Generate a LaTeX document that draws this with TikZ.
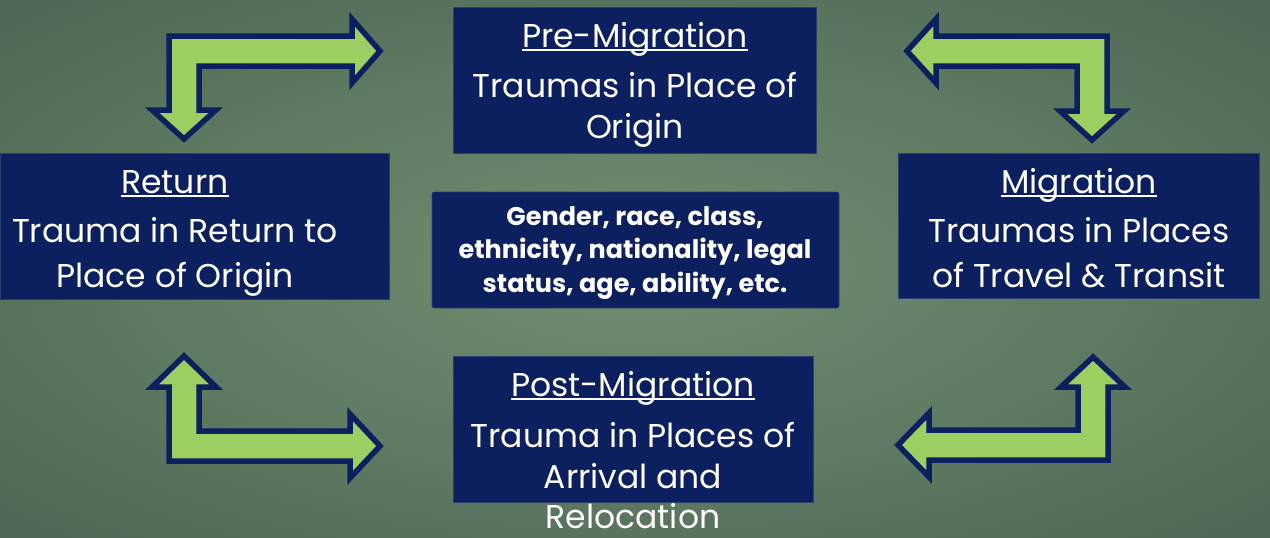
\documentclass[tikz,border=0pt]{standalone}
\usepackage{fontspec}
\setmainfont{Poppins}

\definecolor{navy}{RGB}{12,31,94}
\definecolor{navyedge}{RGB}{44,62,112}
\definecolor{leaf}{RGB}{157,206,98}
\definecolor{bglight}{RGB}{116,142,114}
\definecolor{bgmid}{RGB}{92,118,96}
\definecolor{bgdark}{RGB}{66,87,72}
\definecolor{bgdarker}{RGB}{50,68,58}

\pgfdeclareradialshading{bgshade}{\pgfpoint{0bp}{0bp}}{color(0bp)=(bglight); color(22bp)=(bgmid); color(48bp)=(bgdark); color(72bp)=(bgdarker)}

\newcommand\ulined[1]{\setbox0\hbox{#1}\rlap{\rule[-3.5pt]{\wd0}{1.5pt}}\box0}

\begin{document}
\begin{tikzpicture}[x=1pt,y=-1pt]
\tikzset{
  stage/.style={fill=navy, draw=navyedge, line width=0.6pt, inner sep=0pt},
  words/.style={text=white, inner sep=0pt, anchor=base, font=\fontsize{33}{40}\selectfont},
  bold words/.style={words, font=\fontsize{25.5}{30}\selectfont\bfseries},
  bentarrow/.style={fill=leaf, draw=navy, line width=5.5pt, line join=miter}
}
% background
\shade [shading=bgshade] (0,0) rectangle (1270,538);
\useasboundingbox (0,0) rectangle (1270,538);

% boxes
\node [stage, minimum width=363pt, minimum height=146pt] (pre) at (634.5,80) {};
\node [stage, minimum width=389pt, minimum height=146pt] (ret) at (194.5,226) {};
\node [stage, minimum width=361pt, minimum height=145pt] (mig) at (1078.5,225.5) {};
\node [stage, minimum width=360pt, minimum height=146pt] (post) at (633,429) {};
\node [stage, rounded corners=2pt, minimum width=407pt, minimum height=116pt] (factors) at (635.5,250) {};

% texts
\node [words] (pre-title) at (635,47) {\ulined{Pre-Migration}};
\node [words] (pre-a) at (635,97) {Traumas in Place of};
\node [words] (pre-b) at (635,138) {Origin};

\node [words] (ret-title) at (175,193) {\ulined{Return}};
\node [words] (ret-a) at (175,242) {Trauma in Return to};
\node [words] (ret-b) at (175,287) {Place of Origin};

\node [words] (mig-title) at (1079,193) {\ulined{Migration}};
\node [words] (mig-a) at (1079,242) {Traumas in Places};
\node [words] (mig-b) at (1079,287) {of Travel \& Transit};

\node [words] (post-title) at (633,396) {\ulined{Post-Migration}};
\node [words] (post-a) at (633,447) {Trauma in Places of};
\node [words] (post-b) at (633,488) {Arrival and};
\node [words] (post-c) at (633,528) {Relocation};

\node [bold words] (factors-a) at (635,225) {Gender, race, class,};
\node [bold words] (factors-b) at (635,258) {ethnicity, nationality, legal};
\node [bold words] (factors-c) at (635,292) {status, age, ability, etc.};

% bent double arrows
\draw [bentarrow] (169,36) -- (352,36) -- (352,19) -- (380,51) -- (352,83) -- (352,66) -- (199,66)
  -- (199,110) -- (216,110) -- (184,139) -- (152,110) -- (169,110) -- cycle;
\draw [bentarrow] (1107,36) -- (936,36) -- (936,19) -- (907,51) -- (936,83) -- (936,66) -- (1077,66)
  -- (1077,111) -- (1060,111) -- (1092,140) -- (1124,111) -- (1107,111) -- cycle;
\draw [bentarrow] (169,461) -- (350,461) -- (350,478) -- (380,446) -- (350,414) -- (350,431) -- (199,431)
  -- (199,387) -- (216,387) -- (184,356) -- (152,387) -- (169,387) -- cycle;
\draw [bentarrow] (1108,460) -- (929,460) -- (929,477) -- (898,445) -- (929,413) -- (929,430) -- (1078,430)
  -- (1078,387) -- (1061,387) -- (1093,357) -- (1125,387) -- (1108,387) -- cycle;
\end{tikzpicture}
\end{document}
